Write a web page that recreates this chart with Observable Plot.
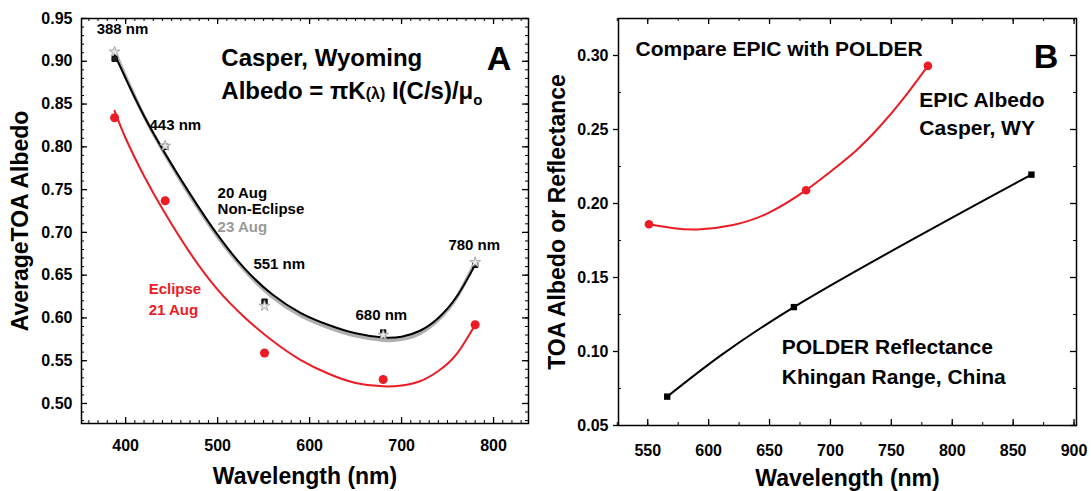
<!DOCTYPE html>
<html><head><meta charset="utf-8">
<script src="https://cdn.jsdelivr.net/npm/d3@7"></script>
<script src="https://cdn.jsdelivr.net/npm/@observablehq/plot@0.6"></script>
<style>
body{margin:0;background:#fff;}
#wrap{display:flex;width:1091px;height:491px;overflow:hidden;}
#wrap svg text{font-weight:bold;}
</style></head><body><div id="wrap"></div>
<script>
// ---------- Panel A data ----------
const wavelengthsA = [388, 443, 551, 680, 780];
const albedo20Aug = [0.903, 0.800, 0.619, 0.583, 0.662];
const albedo23Aug = [0.911, 0.801, 0.614, 0.580, 0.665];
const albedo21Aug = [0.834, 0.737, 0.559, 0.528, 0.592];
// fitted curves
const fitNm = [388, 400, 420, 443, 470, 500, 530, 560, 590, 620, 650, 680, 700, 720, 740, 760, 780];
const fitNonEclipse20 = [0.908, 0.880, 0.836, 0.792, 0.745, 0.697, 0.657, 0.627, 0.606, 0.592, 0.582, 0.577, 0.578, 0.585, 0.600, 0.625, 0.662];
const fitNonEclipse23 = [0.912, 0.882, 0.836, 0.791, 0.743, 0.695, 0.655, 0.624, 0.603, 0.589, 0.579, 0.574, 0.575, 0.582, 0.598, 0.624, 0.665];
const fitEclipse21 = [0.842, 0.810, 0.766, 0.722, 0.676, 0.633, 0.600, 0.573, 0.551, 0.535, 0.524, 0.520, 0.521, 0.526, 0.538, 0.558, 0.592];
const xTicksA = [400, 500, 600, 700, 800];
const yTicksA = [0.50, 0.55, 0.60, 0.65, 0.70, 0.75, 0.80, 0.85, 0.90, 0.95];

// ---------- Panel B data ----------
const wavelengthsEpic = [551, 680, 780];
const epicAlbedo = [0.186, 0.209, 0.293];
const epicFitNm = [551, 570, 591, 620, 650, 680, 700, 720, 740, 760, 780];
const epicFit = [0.186, 0.1835, 0.1825, 0.1855, 0.194, 0.209, 0.2215, 0.235, 0.2515, 0.271, 0.293];
const wavelengthsPolder = [566, 670, 865];
const polderReflectance = [0.0695, 0.130, 0.2195];
const xTicksB = [550, 600, 650, 700, 750, 800, 850, 900];
const yTicksB = [0.05, 0.10, 0.15, 0.20, 0.25, 0.30];

const RED = "#ec1c24";
const FONT = "Arial, 'Liberation Sans', sans-serif";

const note = (txt, x, y, opts = {}) =>
  Plot.text([txt], {x: () => x, y: () => y, text: d => d, fontSize: 15, ...opts});

// ---------- Panel A ----------
const dataA = wavelengthsA.map((w, i) => ({w, a20: albedo20Aug[i], a23: albedo23Aug[i], a21: albedo21Aug[i]}));
const fitA = fitNm.map((w, i) => ({w, n20: fitNonEclipse20[i], n23: fitNonEclipse23[i], e21: fitEclipse21[i]}));
const minorXA = d3.range(360, 840, 10);
const minorYA = d3.range(48, 96).map(v => v / 100);
const hA = 491 - 18 - 68, wA = 546 - 81 - 18;

const plotA = Plot.plot({
  width: 546, height: 491,
  marginLeft: 81, marginRight: 18, marginTop: 18, marginBottom: 68,
  style: {fontFamily: FONT, fontSize: "16px", fontWeight: "bold", background: "white", overflow: "visible"},
  x: {domain: [352, 838]},
  y: {domain: [0.4766, 0.95]},
  marks: [
    Plot.frame({stroke: "black", strokeWidth: 1.5}),
    Plot.tickX(minorXA, {x: d => d, insetTop: hA - 3, strokeWidth: 1}),
    Plot.tickX(xTicksA, {x: d => d, insetTop: hA - 6, strokeWidth: 1.3}),
    Plot.tickX(minorXA, {x: d => d, insetBottom: hA - 3, strokeWidth: 1}),
    Plot.tickX(xTicksA, {x: d => d, insetBottom: hA - 6, strokeWidth: 1.3}),
    Plot.tickY(minorYA, {y: d => d, insetRight: wA - 3, strokeWidth: 1}),
    Plot.tickY(yTicksA, {y: d => d, insetRight: wA - 6, strokeWidth: 1.3}),
    Plot.tickY(minorYA, {y: d => d, insetLeft: wA - 3, strokeWidth: 1}),
    Plot.tickY(yTicksA, {y: d => d, insetLeft: wA - 6, strokeWidth: 1.3}),
    Plot.axisX({ticks: xTicksA, tickSize: 0, tickPadding: 16, fontSize: 16, label: null}),
    Plot.axisY({ticks: yTicksA, tickSize: 0, tickPadding: 9, fontSize: 16, tickFormat: d3.format(".2f"), label: null}),
    Plot.text(["Wavelength (nm)"], {text: d => d, frameAnchor: "bottom", textAnchor: "middle", lineAnchor: "middle", dy: 53, fontSize: 23}),
    Plot.text(["AverageTOA Albedo"], {text: d => d, frameAnchor: "left", textAnchor: "middle", lineAnchor: "middle", rotate: -90, dx: -61, fontSize: 23}),
    Plot.line(fitA, {x: "w", y: "n23", stroke: "#b0b0b0", strokeWidth: 3.5, curve: "natural"}),
    Plot.line(fitA, {x: "w", y: "n20", stroke: "black", strokeWidth: 2, curve: "natural"}),
    Plot.line(fitA, {x: "w", y: "e21", stroke: RED, strokeWidth: 2, curve: "natural"}),
    Plot.dot(dataA, {x: "w", y: "a20", symbol: "square", r: 3, fill: "#222", stroke: "black", strokeWidth: 1}),
    Plot.dot(dataA, {x: "w", y: "a23", symbol: "star", r: 3.4, fill: "#e6e6e6", stroke: "#999", strokeWidth: 0.8}),
    Plot.dot(dataA, {x: "w", y: "a21", r: 4.5, fill: RED}),
    note("388 nm", 396.6, 0.937),
    note("443 nm", 454, 0.825),
    note("20 Aug", 500, 0.746, {textAnchor: "start"}),
    note("Non-Eclipse", 500, 0.727, {textAnchor: "start"}),
    note("23 Aug", 500, 0.706, {textAnchor: "start", fill: "#9a9a9a"}),
    note("551 nm", 567, 0.6625),
    note("Eclipse", 425, 0.634, {textAnchor: "start", fill: RED}),
    note("21 Aug", 425, 0.609, {textAnchor: "start", fill: RED}),
    note("680 nm", 678, 0.603),
    note("780 nm", 779, 0.685),
    note("Casper, Wyoming", 504, 0.903, {textAnchor: "start", fontSize: 24}),
    note("Albedo = πK(λ) I(C/s)/μo", 504, 0.865, {textAnchor: "start", fontSize: 24}),
    note("A", 806, 0.902, {fontSize: 34})
  ]
});

// ---------- Panel B ----------
const epicPts = wavelengthsEpic.map((w, i) => ({w, v: epicAlbedo[i]}));
const epicLine = epicFitNm.map((w, i) => ({w, v: epicFit[i]}));
const polderPts = wavelengthsPolder.map((w, i) => ({w, v: polderReflectance[i]}));
const minorXB = d3.range(525, 901, 25);
const minorYB = d3.range(0, 6).map(i => 0.075 + i * 0.05);
const hB = 491 - 18 - 66, wB = 545 - 72 - 15;

const plotB = Plot.plot({
  width: 545, height: 491,
  marginLeft: 72, marginRight: 15, marginTop: 18, marginBottom: 66,
  style: {fontFamily: FONT, fontSize: "16px", fontWeight: "bold", background: "white", overflow: "visible"},
  x: {domain: [526, 902]},
  y: {domain: [0.05, 0.325]},
  marks: [
    Plot.frame({stroke: "black", strokeWidth: 1.5}),
    Plot.tickX(minorXB, {x: d => d, insetTop: hB - 3, strokeWidth: 1}),
    Plot.tickX(xTicksB, {x: d => d, insetTop: hB - 6, strokeWidth: 1.3}),
    Plot.tickX(minorXB, {x: d => d, insetBottom: hB - 3, strokeWidth: 1}),
    Plot.tickX(xTicksB, {x: d => d, insetBottom: hB - 6, strokeWidth: 1.3}),
    Plot.tickY(minorYB, {y: d => d, insetRight: wB - 3, strokeWidth: 1}),
    Plot.tickY(minorYB, {y: d => d, insetLeft: wB - 3, strokeWidth: 1}),
    Plot.tickY(yTicksB, {y: d => d, insetLeft: wB - 6, strokeWidth: 1.3}),
    Plot.axisX({ticks: xTicksB, tickSize: 0, tickPadding: 19, fontSize: 16, label: null}),
    Plot.axisY({ticks: yTicksB, tickSize: 5, tickPadding: 5, fontSize: 16, tickFormat: d3.format(".2f"), label: null, strokeWidth: 1.3}),
    Plot.text(["Wavelength (nm)"], {text: d => d, frameAnchor: "bottom", textAnchor: "middle", lineAnchor: "middle", dy: 53, fontSize: 23}),
    Plot.text(["TOA Albedo or Reflectance"], {text: d => d, frameAnchor: "left", textAnchor: "middle", lineAnchor: "middle", rotate: -90, dx: -61, fontSize: 23}),
    Plot.line(epicLine, {x: "w", y: "v", stroke: RED, strokeWidth: 2, curve: "natural"}),
    Plot.line(polderPts, {x: "w", y: "v", stroke: "black", strokeWidth: 2, curve: "natural"}),
    Plot.dot(epicPts, {x: "w", y: "v", r: 4.3, fill: RED}),
    Plot.dot(polderPts, {x: "w", y: "v", symbol: "square", r: 3.6, fill: "black"}),
    note("Compare EPIC with POLDER", 540, 0.304, {textAnchor: "start", fontSize: 21}),
    note("B", 877, 0.299, {fontSize: 34}),
    note("EPIC Albedo", 773, 0.2696, {textAnchor: "start", fontSize: 21}),
    note("Casper, WY", 773, 0.2507, {textAnchor: "start", fontSize: 21}),
    note("POLDER Reflectance", 660, 0.1027, {textAnchor: "start", fontSize: 21}),
    note("Khingan Range, China", 660, 0.0824, {textAnchor: "start", fontSize: 21})
  ]
});

const wrap = document.getElementById("wrap");
wrap.appendChild(plotA);
wrap.appendChild(plotB);

// formula with small (λ) and subscript o
d3.select(plotA).selectAll("text").filter(function() { return this.textContent === "Albedo = πK(λ) I(C/s)/μo"; })
  .each(function() {
    const t = d3.select(this);
    t.text(null);
    t.append("tspan").text("Albedo = πK");
    t.append("tspan").attr("font-size", "16px").text("(λ)");
    t.append("tspan").text(" I(C/s)/μ");
    t.append("tspan").attr("font-size", "15px").attr("dy", "6").text("o");
  });
</script></body></html>
